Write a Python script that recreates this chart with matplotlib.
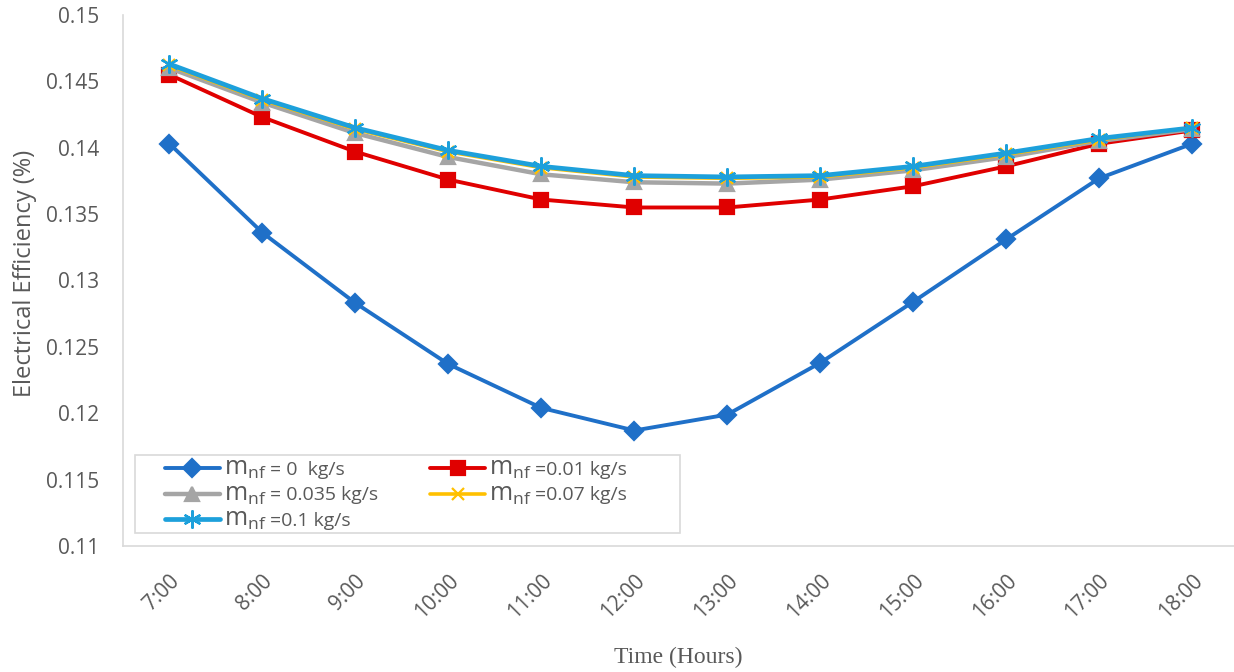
import matplotlib
matplotlib.use("Agg")
import matplotlib.pyplot as plt
from matplotlib.patches import Rectangle
from matplotlib.transforms import ScaledTranslation, IdentityTransform

plt.rcParams['font.family'] = ['Open Sans', 'DejaVu Sans']
plt.rcParams['mathtext.fontset'] = 'custom'
plt.rcParams['mathtext.rm'] = 'Open Sans'
plt.rcParams['mathtext.it'] = 'Open Sans'
plt.rcParams['mathtext.default'] = 'regular'

hours = ["7:00", "8:00", "9:00", "10:00", "11:00", "12:00",
         "13:00", "14:00", "15:00", "16:00", "17:00", "18:00"]

eff_m0 = [0.1403, 0.1336, 0.1283, 0.1237, 0.1204, 0.1187,
          0.1199, 0.1238, 0.1284, 0.1331, 0.1377, 0.1403]
eff_m001 = [0.1455, 0.1423, 0.1397, 0.1376, 0.1361, 0.1355,
            0.1355, 0.1361, 0.1371, 0.1386, 0.1403, 0.1413]
eff_m0035 = [0.1460, 0.1434, 0.1411, 0.1393, 0.1380, 0.1374,
             0.1373, 0.1376, 0.1383, 0.1393, 0.1405, 0.1414]
eff_m007 = [0.1462, 0.1436, 0.1414, 0.1397, 0.1385, 0.1378,
            0.1377, 0.1378, 0.1385, 0.1395, 0.1406, 0.1415]
eff_m01 = [0.1463, 0.1437, 0.1415, 0.1398, 0.1386, 0.1379,
           0.1378, 0.1379, 0.1386, 0.1396, 0.1407, 0.1415]

# legend text after the "m_nf" symbol
flow_labels = ["= 0  kg/s", "=0.01 kg/s", "= 0.035 kg/s", "=0.07 kg/s", "=0.1 kg/s"]

yticks = [0.11, 0.115, 0.12, 0.125, 0.13, 0.135, 0.14, 0.145, 0.15]
ytick_labels = ["0.11", "0.115", "0.12", "0.125", "0.13", "0.135", "0.14", "0.145", "0.15"]

text_grey = '#595959'
W, H = 1234, 672
fig = plt.figure(figsize=(W / 100, H / 100), dpi=100)
ax = fig.add_axes([123 / W, 1 - 546 / H, 1 - 123 / W, (546 - 15) / H])

x = list(range(len(hours)))
series = [
    (eff_m0, '#1F70C8', 'D', 9, 2.8),
    (eff_m001, '#E00000', 's', 10, 2.8),
    (eff_m0035, '#A5A5A5', '^', 10, 3.2),
    (eff_m007, '#FFC000', 'x', 9, 2.6),
    (eff_m01, '#1DA0DB', (6, 2, 0), 13, 3.4),
]
handles = []
for (vals, color, marker, ms, lw), lab in zip(series, flow_labels):
    h, = ax.plot(x, vals, color=color, marker=marker, markersize=ms, linewidth=lw,
                 markeredgecolor=color, markerfacecolor=color, markeredgewidth=1.6,
                 label=lab, solid_capstyle='round')
    handles.append(h)

ax.set_xlim(-0.5, 11.45)
ax.set_ylim(0.11, 0.15)
ax.set_yticks(yticks)
ax.set_yticklabels(ytick_labels)
ax.set_xticks(x)
ax.set_xticklabels(hours, rotation=45, ha='right', va='center', rotation_mode='anchor')
ax.tick_params(axis='both', length=0, colors=text_grey, labelsize=15)
ax.tick_params(axis='x', pad=23)
ax.tick_params(axis='y', pad=17)
shift = ScaledTranslation(7 / 100, 0, fig.dpi_scale_trans)
for lbl in ax.get_xticklabels():
    lbl.set_transform(lbl.get_transform() + shift)

for side in ['top', 'right']:
    ax.spines[side].set_visible(False)
for side in ['left', 'bottom']:
    ax.spines[side].set_color('#D9D9D9')
    ax.spines[side].set_linewidth(1.2)

ax.set_ylabel("Electrical Efficiency (%)", color=text_grey, fontsize=17)
ax.yaxis.set_label_coords(-0.077, 0.514)
ax.set_xlabel("Time (Hours)", color=text_grey, fontsize=17,
              family=['Liberation Serif', 'DejaVu Serif'])
ax.xaxis.set_label_coords(0.50, -0.19)

# legend frame
ax.add_patch(Rectangle((135 / W, 1 - 533 / H), (680 - 135) / W, (533 - 455) / H,
                       transform=fig.transFigure, facecolor='white',
                       edgecolor='#D9D9D9', linewidth=1.2, zorder=3, clip_on=False))

order = [0, 2, 4, 1, 3]
fs = 14
em = fs * 100 / 72
leg = ax.legend([handles[i] for i in order], [flow_labels[i] for i in order],
                ncol=2, loc='upper left',
                bbox_to_anchor=(165 / W, 1 - 461 / H), bbox_transform=fig.transFigure,
                borderaxespad=0, frameon=False, fontsize=fs,
                labelcolor=text_grey, handlelength=55 / em, handletextpad=50 / em,
                columnspacing=52 / em, labelspacing=0.38, borderpad=0)
leg.set_zorder(5)

fig.canvas.draw()
for t in leg.get_texts():
    bx, by = t.get_transform().transform(t.get_position())
    fig.text(bx - 3, by, r"m$_{nf}$", transform=IdentityTransform(), ha='right',
             va='baseline', fontsize=18, color=text_grey, zorder=6)

fig.savefig("out.png", dpi=100)
